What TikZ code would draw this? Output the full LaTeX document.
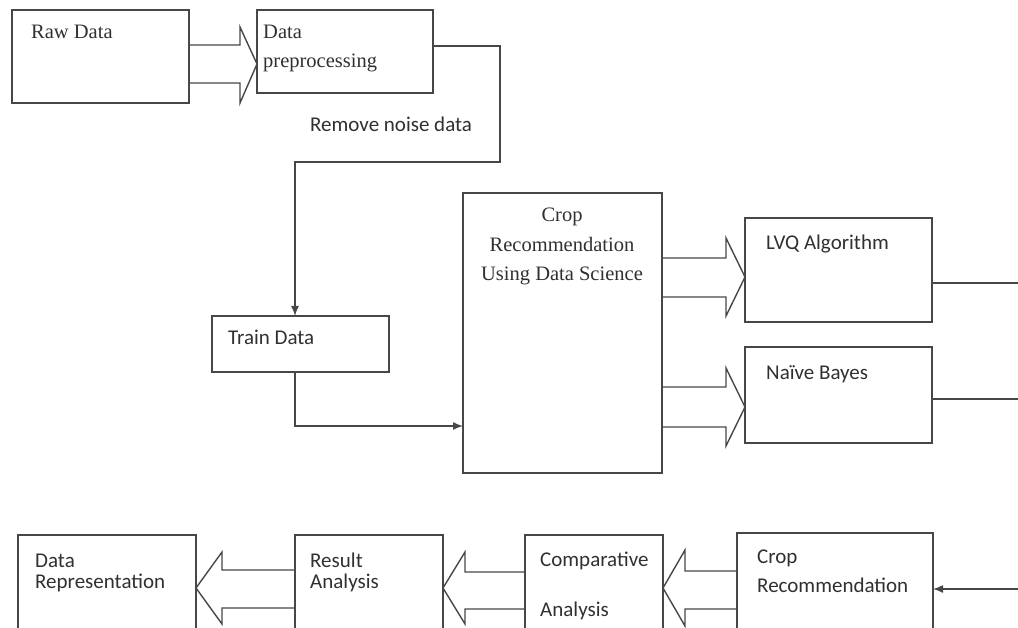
\documentclass[tikz,border=0pt]{standalone}
\usepackage{fontspec}
\setmainfont{Liberation Serif}
\newfontfamily\calfont{Carlito}
\usetikzlibrary{arrows.meta,calc}
\definecolor{linec}{HTML}{474747}
\definecolor{txtc}{HTML}{303030}
\begin{document}
\begin{tikzpicture}[x=1pt,y=-1pt]
\tikzset{
  box/.style={draw=linec, line width=1.5pt, anchor=north west, inner sep=0pt, outer sep=0pt},
  flow/.style={draw=linec, line width=1.4pt},
  arr/.style={flow, -{Latex[length=10pt,width=8pt]}},
  blk/.style={draw=linec, line width=1.4pt, line join=miter},
  rmtxt/.style={font=\fontsize{20.5}{24}\selectfont, text=txtc, inner sep=0pt, anchor=base west},
  sftxt/.style={font=\calfont\fontsize{21}{24}\selectfont, text=txtc, inner sep=0pt, anchor=base west},
}
\useasboundingbox (0,0) rectangle (1018,628);
\clip (0,0) rectangle (1018,628);

% process boxes
\node[box, minimum width=177pt, minimum height=93pt]  (raw)   at (12,10)  {};
\node[box, minimum width=176pt, minimum height=83pt]  (prep)  at (257,10) {};
\node[box, minimum width=177pt, minimum height=56pt]  (train) at (212,316) {};
\node[box, minimum width=199pt, minimum height=280pt] (crop)  at (463,193) {};
\node[box, minimum width=187pt, minimum height=104pt] (lvq)   at (745,218) {};
\node[box, minimum width=187pt, minimum height=96pt]  (nb)    at (745,347) {};
\node[box, minimum width=178pt, minimum height=110pt] (rep)   at (18,535)  {};
\node[box, minimum width=148pt, minimum height=110pt] (res)   at (295,535) {};
\node[box, minimum width=138pt, minimum height=110pt] (comp)  at (525,535) {};
\node[box, minimum width=196pt, minimum height=112pt] (crec)  at (737,533) {};

% labels
\node[rmtxt] (rawT)   at (31,39)  {Raw Data};
\node[rmtxt] (prepT1) at (263,39) {Data};
\node[rmtxt] (prepT2) at (263,68) {preprocessing};
\node[sftxt] (noiseT) at (310,132) {Remove noise data};
\node[rmtxt, anchor=base] (cropT1) at (562,222) {Crop};
\node[rmtxt, anchor=base] (cropT2) at (562,252) {Recommendation};
\node[rmtxt, anchor=base] (cropT3) at (562,281) {Using Data Science};
\node[sftxt] (lvqT)   at (766,250) {LVQ Algorithm};
\node[sftxt] (nbT)    at (766,380) {Naïve Bayes};
\node[sftxt] (trainT) at (228,345) {Train Data};
\node[sftxt] (repT1)  at (35,567)  {Data};
\node[sftxt] (repT2)  at (35,588)  {Representation};
\node[sftxt] (resT1)  at (310,567) {Result};
\node[sftxt] (resT2)  at (310,588) {Analysis};
\node[sftxt] (compT1) at (540,566) {Comparative};
\node[sftxt] (compT2) at (540,616) {Analysis};
\node[sftxt] (crecT1) at (757,563) {Crop};
\node[sftxt] (crecT2) at (757,592) {Recommendation};

% hollow block arrows
\draw[blk] (raw.east|-0,45) -- (240,45) -- (240,27) -- (prep.west|-0,64)
  -- (240,103) -- (240,83) -- (raw.east|-0,83);
\draw[blk] (crop.east|-0,258) -- (726,258) -- (726,238) -- (lvq.west|-0,277)
  -- (726,316) -- (726,297) -- (crop.east|-0,297);
\draw[blk] (crop.east|-0,387) -- (726,387) -- (726,368) -- (nb.west|-0,407)
  -- (726,446) -- (726,427) -- (crop.east|-0,427);
\draw[blk] (res.west|-0,570) -- (222,570) -- (222,552) -- (rep.east|-0,588)
  -- (222,624) -- (222,608) -- (res.west|-0,608);
\draw[blk] (comp.west|-0,572) -- (465,572) -- (465,552) -- (res.east|-0,588)
  -- (465,624) -- (465,609) -- (comp.west|-0,609);
\draw[blk] (crec.west|-0,571) -- (685,571) -- (685,550) -- (comp.east|-0,588)
  -- (685,626) -- (685,609) -- (crec.west|-0,609);

% line connectors
\coordinate (outL) at (1018,283);
\coordinate (outN) at (1018,399);
\coordinate (inC)  at (1018,589);
\draw[arr] (prep.east|-0,46) -- (500,46) -- (500,162) -- (295,162) -- (train.north -| 295,0);
\draw[arr] (train.south -| 295,0) -- (295,426) -- (crop.west|-0,426);
\draw[flow] (lvq.east|-0,283) -- (outL);
\draw[flow] (nb.east|-0,399) -- (outN);
\draw[arr] (inC) -- (crec.east|-0,589);
\end{tikzpicture}
\end{document}
